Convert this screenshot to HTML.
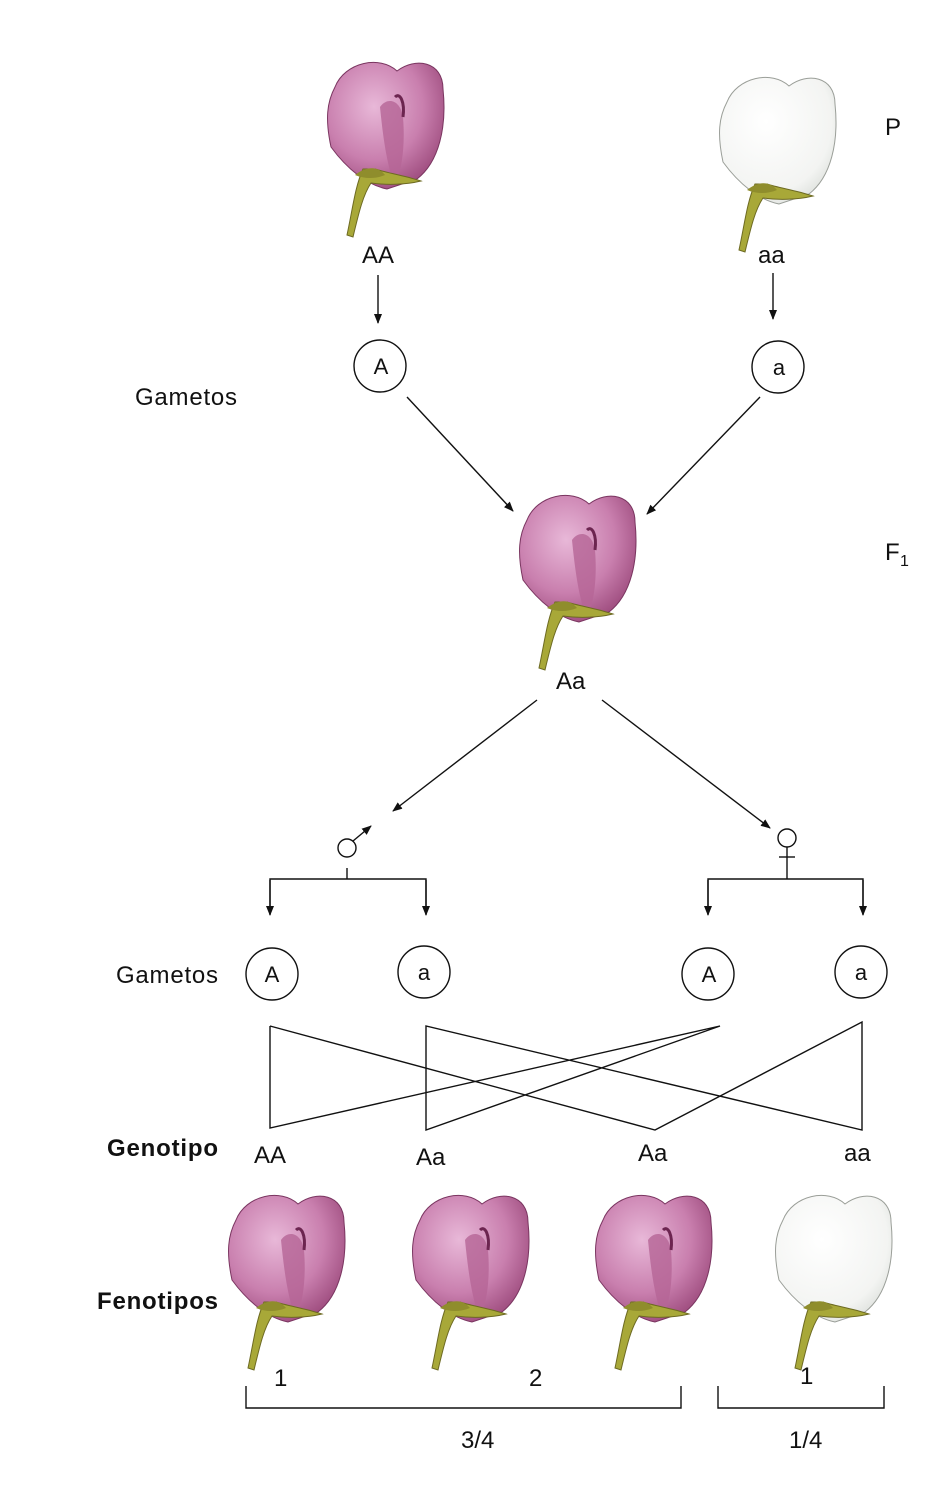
<!DOCTYPE html>
<html><head><meta charset="utf-8"><style>
html,body{margin:0;padding:0;background:#fff}
svg{display:block}
text{font-family:"Liberation Sans",sans-serif;fill:#111}
</style></head><body>
<svg width="926" height="1496" viewBox="0 0 926 1496" xmlns="http://www.w3.org/2000/svg">
<defs>
<radialGradient id="pk" cx="0.4" cy="0.35" r="0.7">
<stop offset="0" stop-color="#e8b8d8"/><stop offset="0.6" stop-color="#c97fae"/><stop offset="1" stop-color="#9c4a7c"/>
</radialGradient>
<radialGradient id="wh" cx="0.4" cy="0.35" r="0.7">
<stop offset="0" stop-color="#ffffff"/><stop offset="0.8" stop-color="#f3f4f2"/><stop offset="1" stop-color="#dfe2de"/>
</radialGradient>
<g id="stem">
<path d="M38,112 C30,130 28,150 22,178 L28,180 C34,155 38,138 46,126 C60,128 80,128 96,124 C78,118 62,116 50,112 Z" fill="#a8a838" stroke="#6d6a22" stroke-width="1"/>
<path d="M30,118 C40,110 52,108 60,118 C50,122 40,122 30,118Z" fill="#8f8d2c"/>
</g>
<g id="pf">
<path d="M10,30 C20,5 55,-2 72,14 C90,0 118,4 118,32 C122,70 114,105 92,122 L62,132 C42,128 22,112 6,90 C0,62 2,45 10,30 Z" fill="url(#pk)" stroke="#7a3560" stroke-width="1"/>
<path d="M55,50 C62,40 75,42 78,60 C80,85 78,110 70,128 C62,110 58,80 55,50Z" fill="#b56596" opacity="0.8"/>
<path d="M70,40 C75,35 80,45 78,60" fill="none" stroke="#6c2550" stroke-width="3"/>
<use href="#stem"/>
</g>
<g id="wf">
<path d="M10,30 C20,5 55,-2 72,14 C90,0 118,4 118,32 C122,70 114,105 92,122 L62,132 C42,128 22,112 6,90 C0,62 2,45 10,30 Z" fill="url(#wh)" stroke="#9a9e98" stroke-width="1"/>
<use href="#stem"/>
</g>
<marker id="ar" markerWidth="10" markerHeight="10" refX="9" refY="5" orient="auto" markerUnits="userSpaceOnUse">
<path d="M0,1 L10,5 L0,9 Z" fill="#111"/>
</marker>
</defs>

<use href="#pf" transform="translate(325,57)"/>
<use href="#wf" transform="translate(717,72)"/>
<use href="#pf" transform="translate(517,490)"/>
<use href="#pf" transform="translate(226,1190)"/>
<use href="#pf" transform="translate(410,1190)"/>
<use href="#pf" transform="translate(593,1190)"/>
<use href="#wf" transform="translate(773,1190)"/>

<g font-size="24">
<text x="893" y="135" text-anchor="middle">P</text>
<text x="362" y="263">AA</text>
<text x="758" y="263">aa</text>
<text x="135" y="405" textLength="102">Gametos</text>
<text x="885" y="560">F</text><text x="900" y="566" font-size="16">1</text>
<text x="556" y="689">Aa</text>
<text x="116" y="983" textLength="102">Gametos</text>
<text x="107" y="1156" font-weight="bold" textLength="111">Genotipo</text>
<text x="254" y="1163">AA</text>
<text x="416" y="1165">Aa</text>
<text x="638" y="1161">Aa</text>
<text x="844" y="1161">aa</text>
<text x="97" y="1309" font-weight="bold" textLength="121">Fenotipos</text>
<text x="274" y="1386">1</text>
<text x="529" y="1386">2</text>
<text x="800" y="1384">1</text>
<text x="461" y="1448">3/4</text>
<text x="789" y="1448">1/4</text>
</g>
<g font-size="22" text-anchor="middle">
<text x="381" y="374">A</text>
<text x="779" y="375">a</text>
<text x="272" y="982">A</text>
<text x="424" y="980">a</text>
<text x="709" y="982">A</text>
<text x="861" y="980">a</text>
</g>

<g fill="none" stroke="#111" stroke-width="1.4">
<circle cx="380" cy="366" r="26"/><circle cx="778" cy="367" r="26"/>
<circle cx="272" cy="974" r="26"/><circle cx="424" cy="972" r="26"/>
<circle cx="708" cy="974" r="26"/><circle cx="861" cy="972" r="26"/>
<line x1="378" y1="275" x2="378" y2="323" marker-end="url(#ar)"/>
<line x1="773" y1="273" x2="773" y2="319" marker-end="url(#ar)"/>
<line x1="407" y1="397" x2="513" y2="511" marker-end="url(#ar)"/>
<line x1="760" y1="397" x2="647" y2="514" marker-end="url(#ar)"/>
<line x1="537" y1="700" x2="393" y2="811" marker-end="url(#ar)"/>
<line x1="602" y1="700" x2="770" y2="828" marker-end="url(#ar)"/>
<circle cx="347" cy="848" r="9"/>
<line x1="353" y1="841" x2="371" y2="826" marker-end="url(#ar)"/>
<circle cx="787" cy="838" r="9"/>
<line x1="787" y1="847" x2="787" y2="865"/><line x1="779" y1="857" x2="795" y2="857"/>
<path d="M347,868 V879 M270,914 V879 H426 V914"/>
<path d="M787,865 V879 M708,914 V879 H863 V914"/>
<line x1="270" y1="880" x2="270" y2="915" marker-end="url(#ar)"/>
<line x1="426" y1="880" x2="426" y2="915" marker-end="url(#ar)"/>
<line x1="708" y1="880" x2="708" y2="915" marker-end="url(#ar)"/>
<line x1="863" y1="880" x2="863" y2="915" marker-end="url(#ar)"/>
<path d="M270,1026 V1128 L720,1026 L426,1130 V1026 L862,1130 V1022 L655,1130 L270,1026"/>
<path d="M246,1386 V1408 H681 V1386 M718,1386 V1408 H884 V1386"/>
</g>
</svg>
</body></html>
